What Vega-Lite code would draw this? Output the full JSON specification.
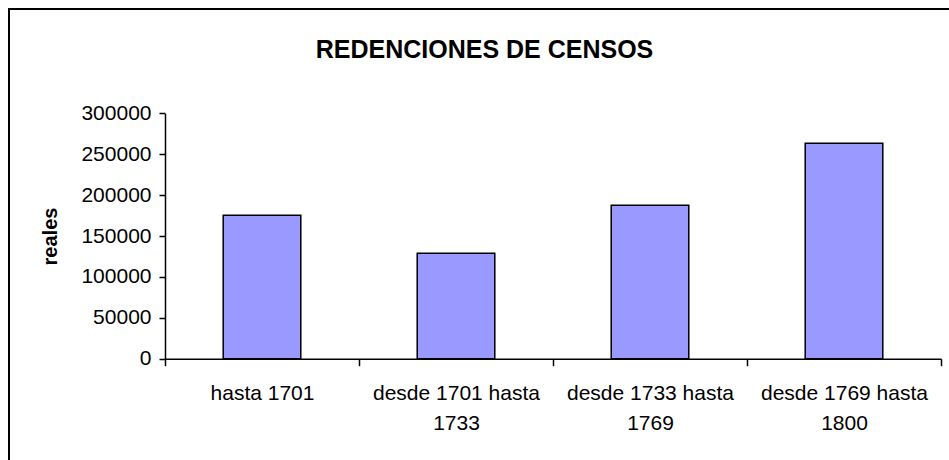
{
  "$schema": "https://vega.github.io/schema/vega-lite/v6.json",
  "autosize": "none",
  "padding": {"left": 9, "top": 9, "right": 0, "bottom": 0},
  "width": 951,
  "height": 470,
  "background": "white",
  "title": {
    "text": "REDENCIONES DE CENSOS",
    "font": "Liberation Sans",
    "fontSize": 25,
    "fontWeight": "bold",
    "color": "black",
    "anchor": "middle",
    "frame": "group",
    "orient": "top",
    "offset": -74,
    "baseline": "alphabetic"
  },
  "data": {
    "values": [
      {"periodo": "hasta 1701", "reales": 175300},
      {"periodo": "desde 1701 hasta 1733", "reales": 128900},
      {"periodo": "desde 1733 hasta 1769", "reales": 187500},
      {"periodo": "desde 1769 hasta 1800", "reales": 263300}
    ]
  },
  "mark": {"type": "bar", "fill": "#9999FF", "stroke": "black", "strokeWidth": 1.5, "width": {"band": 0.4}},
  "encoding": {
    "x": {
      "field": "periodo",
      "type": "nominal",
      "sort": null,
      "scale": {"range": [156, 932], "paddingInner": 0, "paddingOuter": 0},
      "axis": {
        "title": null,
        "orient": "bottom",
        "offset": -120.3,
        "tickBand": "extent",
        "tickSize": 7,
        "labelAngle": 0,
        "labelFontSize": 21,
        "labelPadding": 17,
        "labelLineHeight": 30,
        "labelOverlap": false,
        "labelBound": false,
        "labelFlush": false,
        "labelLimit": 400,
        "labelExpr": "datum.label == 'hasta 1701' ? datum.label : [slice(datum.label, 0, -5), slice(datum.label, -4)]"
      }
    },
    "y": {
      "field": "reales",
      "type": "quantitative",
      "scale": {"domain": [0, 300000], "range": [349.7, 104.3], "nice": false, "zero": true},
      "axis": {
        "title": "reales",
        "orient": "left",
        "offset": -156,
        "values": [0, 50000, 100000, 150000, 200000, 250000, 300000],
        "format": "d",
        "tickSize": 6,
        "labelFontSize": 21,
        "labelPadding": 8,
        "titleFontSize": 20,
        "titleFontWeight": "bold",
        "titlePadding": 20,
        "grid": false
      }
    }
  },
  "config": {
    "view": {"stroke": "black", "strokeWidth": 2},
    "axis": {
      "domainColor": "black",
      "domainWidth": 1.5,
      "tickColor": "black",
      "tickWidth": 1.5,
      "labelFont": "Liberation Sans",
      "labelColor": "black",
      "titleFont": "Liberation Sans",
      "titleColor": "black",
      "grid": false
    }
  }
}
